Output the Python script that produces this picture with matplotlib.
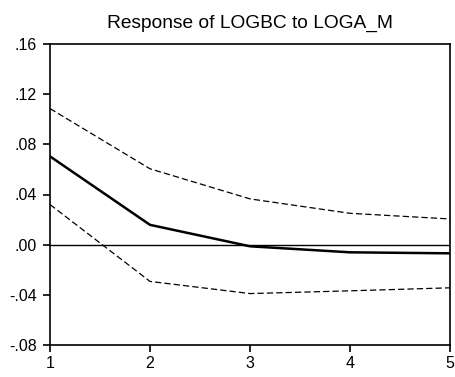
import matplotlib
matplotlib.use("Agg")
import matplotlib.pyplot as plt

periods = [1, 2, 3, 4, 5]
response = [0.0704, 0.0158, -0.0013, -0.0061, -0.0069]
upper = [0.1085, 0.0605, 0.0365, 0.0250, 0.0205]
lower = [0.0320, -0.0293, -0.0390, -0.0368, -0.0344]
yticks = [-0.08, -0.04, 0.00, 0.04, 0.08, 0.12, 0.16]
yticklabels = ["-.08", "-.04", ".00", ".04", ".08", ".12", ".16"]
title = "Response of LOGBC to LOGA_M"

plt.rcParams['font.family'] = ['Liberation Sans', 'DejaVu Sans']
W, H = 456, 377
fig = plt.figure(figsize=(W/100, H/100), dpi=100)
ax = fig.add_axes([50/W, (H-345)/H, 400/W, 301/H])

ax.axhline(0, color='black', lw=1.0)
ax.plot(periods, upper, color='black', lw=0.9, ls=(0, (5, 2.5)))
ax.plot(periods, lower, color='black', lw=0.9, ls=(0, (5, 2.5)))
ax.plot(periods, response, color='black', lw=1.8)

ax.set_xlim(1, 5)
ax.set_ylim(-0.08, 0.16)
ax.set_xticks(periods)
ax.set_xticklabels([str(p) for p in periods])
ax.set_yticks(yticks)
ax.set_yticklabels(yticklabels)
ax.tick_params(direction='out', length=5, width=1.2, labelsize=11.5, colors='black')
ax.tick_params(axis='y', pad=4.5)
ax.tick_params(axis='x', pad=3)
ax.tick_params(axis='x', top=False)
ax.tick_params(axis='y', right=False)
for s in ax.spines.values():
    s.set_linewidth(1.2)
ax.set_title(title, fontsize=13.8, pad=12)

fig.savefig("out.png", dpi=100)
